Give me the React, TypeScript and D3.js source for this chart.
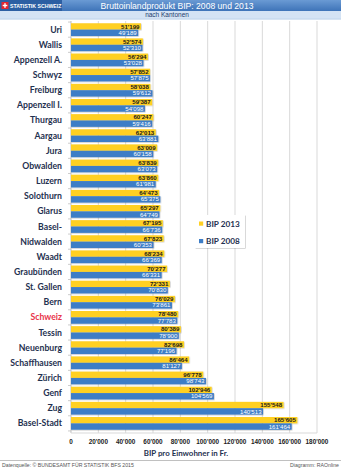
import React from "react";
import * as d3 from "d3";

const cantons = ["Uri","Wallis","Appenzell A.","Schwyz","Freiburg","Appenzell I.","Thurgau","Aargau","Jura","Obwalden","Luzern","Solothurn","Glarus","Basel-","Nidwalden","Waadt","Graubünden","St. Gallen","Bern","Schweiz","Tessin","Neuenburg","Schaffhausen","Zürich","Genf","Zug","Basel-Stadt"];
const bip2013 = [51199,52574,56294,57852,58038,59387,60247,62013,63009,63839,63860,64473,65297,67195,67823,68234,70277,72331,76029,78480,80389,82698,86464,96778,102946,155548,165605];
const bip2008 = [49189,52310,53028,57875,59612,54098,59416,63881,60158,63073,61981,65375,64749,66736,60353,66369,66331,70830,73861,77783,78900,77196,81127,98743,104569,140513,161464];
const xTicks = [0,20000,40000,60000,80000,100000,120000,140000,160000,180000];
const seriesNames = ["BIP 2013","BIP 2008"];

const W = 341, H = 469;
const YELLOW = "#FFD023";
const BLUE = "#3D7DC6";
const fmt = (n: number) => String(n).replace(/\B(?=(\d{3})+(?!\d))/g, "'");

export default function App() {
  const x = d3.scaleLinear().domain([0, 180000]).range([71, 317]);
  const y = d3.scaleBand<string>().domain(cantons).range([21, 432]).paddingInner(0.16).paddingOuter(0.15);
  const yi = d3.scaleBand<string>().domain(["2013","2008"]).range([0, y.bandwidth()]);
  const step = y.step();
  const bw = yi.bandwidth();

  return (
    <div style={{ position: "absolute", left: 0, top: 0 }}>
      <svg width={W} height={H} style={{ display: "block", background: "#fff" }}>
        <defs>
          <linearGradient id="hdr" x1="0" y1="0" x2="0" y2="1">
            <stop offset="0" stopColor="#6a9ad4" />
            <stop offset="1" stopColor="#3e74b8" />
          </linearGradient>
          <filter id="sh" x="-20%" y="-20%" width="140%" height="140%">
            <feDropShadow dx="0.6" dy="0.6" stdDeviation="0.6" floodColor="#000" floodOpacity="0.25" />
          </filter>
        </defs>
        {/* header */}
        <rect x={0} y={0} width={W} height={11} fill="url(#hdr)" />
        <rect x={0} y={0} width={62} height={11} fill="#2c5fa3" />
        <rect x={1.5} y={2} width={7} height={7} fill="#e3262f" />
        <rect x={4.3} y={3.2} width={1.4} height={4.6} fill="#fff" />
        <rect x={2.7} y={4.8} width={4.6} height={1.4} fill="#fff" />
        <text x={10} y={8} fontFamily="Liberation Sans, Arial" fontSize={5.2} fontWeight="bold" fill="#fff">STATISTIK SCHWEIZ</text>
        <text x={177} y={8.8} textAnchor="middle" fontFamily="Liberation Sans, Arial" fontSize={8.6} fill="#fff">Bruttoinlandprodukt BIP: 2008 und 2013</text>
        <rect x={0} y={11} width={W} height={8} fill="#d4e3f4" />
        <line x1={0} x2={W} y1={19.2} y2={19.2} stroke="#9fbde0" strokeWidth={0.6} />
        <text x={167} y={17.3} textAnchor="middle" fontFamily="Liberation Sans, Arial" fontSize={6.5} fill="#1d3d6e">nach Kantonen</text>

        {/* grid */}
        {xTicks.map((t) => (
          <line key={"g" + t} x1={x(t)} x2={x(t)} y1={21} y2={433} stroke={t === 0 ? "#bfbfbf" : "#d9d9d9"} strokeWidth={1} />
        ))}
        <line x1={71} x2={317} y1={433} y2={433} stroke="#d9d9d9" strokeWidth={1} />
        {d3.range(cantons.length + 1).map((i) => {
          const yy = 21 + y.paddingOuter() * step - (y.paddingInner() * step) / 2 + i * step;
          return <line key={"t" + i} x1={68} x2={71} y1={yy} y2={yy} stroke="#bfbfbf" strokeWidth={0.8} />;
        })}

        {/* bars */}
        {cantons.map((c, i) => {
          const y0 = y(c)!;
          const a = bip2013[i], b = bip2008[i];
          const ya = y0 + yi("2013")!, yb = y0 + yi("2008")!;
          return (
            <g key={c}>
              <rect x={x(0)} y={ya} width={x(a) - x(0)} height={bw} fill={YELLOW} filter="url(#sh)" />
              <rect x={x(0)} y={yb} width={x(b) - x(0)} height={bw} fill={BLUE} filter="url(#sh)" />
              <text x={x(a) - 1.5} y={ya + bw / 2 + 2.1} textAnchor="end" fontFamily="Liberation Sans, Arial" fontSize={6.1} fontWeight="bold" fill="#1a1a1a">{fmt(a)}</text>
              <text x={x(b) - 1.5} y={yb + bw / 2 + 2.1} textAnchor="end" fontFamily="Liberation Sans, Arial" fontSize={6.1} fill="#fff">{fmt(b)}</text>
              <text x={62} y={y0 + y.bandwidth() / 2 + 3} textAnchor="end" fontFamily="Lato, 'Open Sans', sans-serif" fontSize={8.7} fontWeight="bold" fill={c === "Schweiz" ? "#e8334a" : "#1f3150"}>{c}</text>
            </g>
          );
        })}

        {/* legend */}
        <rect x={195} y={215} width={50} height={33} fill="#fff" filter="url(#sh)" />
        {seriesNames.map((s, i) => (
          <g key={s}>
            <rect x={199} y={221.5 + i * 17.5} width={4.2} height={4.2} fill={i === 0 ? YELLOW : BLUE} />
            <text x={206} y={226.5 + i * 17.5} fontFamily="Lato, 'Open Sans', sans-serif" fontSize={8.2} fontWeight="bold" fill="#1f3150">{s}</text>
          </g>
        ))}

        {/* x axis labels */}
        {xTicks.map((t) => (
          <text key={"l" + t} x={x(t)} y={444} textAnchor="middle" fontFamily="Liberation Sans, Arial" fontSize={6.4} fontWeight="bold" fill="#222">{fmt(t)}</text>
        ))}
        <text x={186} y={456} textAnchor="middle" fontFamily="Lato, 'Open Sans', sans-serif" fontSize={7.9} fontWeight="bold" fill="#1f3150">BIP pro Einwohner in Fr.</text>

        {/* footer */}
        <line x1={0} x2={W} y1={460.5} y2={460.5} stroke="#b0b0b0" strokeWidth={0.8} />
        <text x={2} y={467} fontFamily="Liberation Sans, Arial" fontSize={5.2} fill="#555">Datenquelle: © BUNDESAMT FÜR STATISTIK BFS 2015</text>
        <text x={339} y={467} textAnchor="end" fontFamily="Liberation Sans, Arial" fontSize={5.2} fill="#555">Diagramm: RAOnline</text>
      </svg>
    </div>
  );
}
